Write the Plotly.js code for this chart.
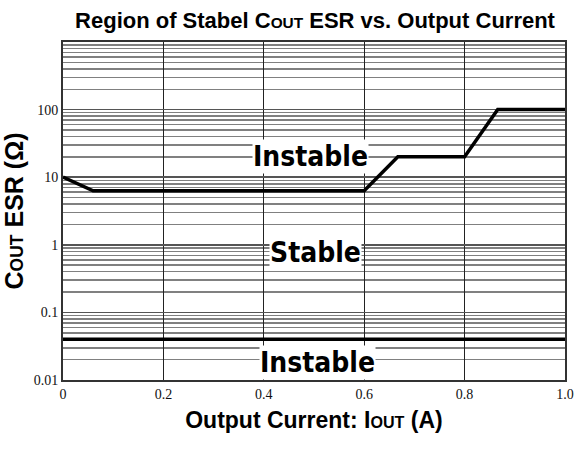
<!DOCTYPE html>
<html>
<head>
<meta charset="utf-8">
<script src="https://cdn.plot.ly/plotly-3.0.1.min.js"></script>
<style>html,body{margin:0;padding:0;background:#fff;}</style>
</head>
<body>
<div id="chart" style="width:578px;height:450px;"></div>
<script>
// Boundary of stable region: Output current (A) vs COUT ESR (ohm)
const currentA = [0, 0.06, 0.6, 0.667, 0.8, 0.866, 1.0];
const esrUpper = [10, 6.3, 6.3, 20, 20, 100, 100];
// Lower boundary (constant ESR)
const currentLow = [0, 1.0];
const esrLower = [0.04, 0.04];
const xTicks = [0, 0.2, 0.4, 0.6, 0.8, 1.0];
const xTickText = ['0', '0.2', '0.4', '0.6', '0.8', '1.0'];
const yTicks = [0.01, 0.1, 1, 10, 100];
const yTickText = ['0.01', '0.1', '1', '10', '100'];
const regionLabels = ['Instable', 'Stable', 'Instable'];
const regionX = [0.494, 0.502, 0.506];
const regionY = [20.4, 0.76, 0.0184];

const narrow = '"Liberation Sans Narrow", "Arial Narrow", "Liberation Sans", Arial, sans-serif';
const sm = s => '<span style="font-size:0.7em">' + s + '</span>';

const traces = [
  {x: currentA, y: esrUpper, mode: 'lines', line: {color: '#000', width: 3.5}, hoverinfo: 'skip'},
  {x: currentLow, y: esrLower, mode: 'lines', line: {color: '#000', width: 3.5}, hoverinfo: 'skip'}
];

const annotations = regionLabels.map((t, i) => ({
  x: regionX[i], y: Math.log10(regionY[i]), xref: 'x', yref: 'y',
  text: t, showarrow: false, bgcolor: '#fff',
  font: {family: '"DejaVu Sans Condensed", "DejaVu Sans", Verdana, sans-serif', weight: 'bold', size: 28, color: '#000'},
  borderpad: 0
}));

const layout = {
  width: 578, height: 450,
  margin: {l: 63, r: 13, t: 42, b: 70},
  paper_bgcolor: '#fff', plot_bgcolor: '#fff',
  showlegend: false,
  title: {
    text: '<b>Region of Stabel C' + sm('OUT') + ' ESR vs. Output Current</b>',
    font: {family: narrow, size: 22, color: '#000'},
    x: 0.545, xanchor: 'center', y: 0.955, yanchor: 'middle'
  },
  xaxis: {
    range: [0, 1], tickvals: xTicks, ticktext: xTickText,
    showgrid: true, gridcolor: '#222', gridwidth: 1,
    showline: true, linecolor: '#333', linewidth: 2, mirror: true,
    ticks: '', zeroline: false,
    tickfont: {family: '"Liberation Serif", "Times New Roman", serif', size: 14, color: '#111'},
    title: {text: '<b>Output Current: I' + sm('OUT') + ' (A)</b>', font: {family: narrow, size: 23, color: '#000'}, standoff: 11}
  },
  yaxis: {
    type: 'log', range: [-2, 3], tickvals: yTicks, ticktext: yTickText,
    showgrid: true, gridcolor: '#555', gridwidth: 1.5,
    minor: {dtick: 'D1', showgrid: true, gridcolor: '#808080', gridwidth: 1.5, ticks: ''},
    showline: true, linecolor: '#333', linewidth: 2, mirror: true,
    ticks: '', zeroline: false,
    tickfont: {family: '"Liberation Serif", "Times New Roman", serif', size: 14, color: '#111'},
    title: {text: '<b>C' + sm('OUT') + ' ESR (Ω)</b>', font: {family: '"Liberation Sans", Arial, sans-serif', size: 25, color: '#000'}, standoff: 6}
  },
  annotations: annotations
};

Plotly.newPlot('chart', traces, layout, {staticPlot: true, displayModeBar: false});
</script>
</body>
</html>
